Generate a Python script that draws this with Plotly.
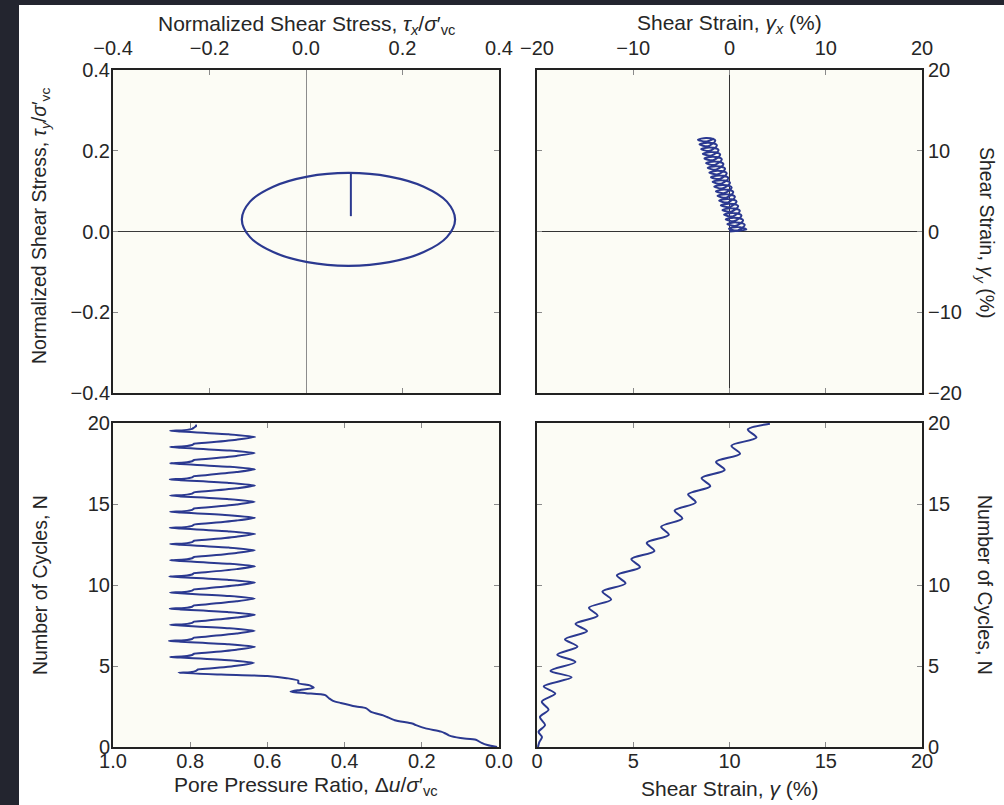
import plotly.graph_objects as go

W, H = 1004, 805

# ---------------- data ----------------
# Top-left: stress path (initial vertical loading, then the elliptical loop)
tau_x_initial = [0.093, 0.093]
tau_y_initial = [0.038, 0.146]
tau_x_loop = [0.088, 0.173, 0.244, 0.292, 0.309, 0.292, 0.244, 0.173, 0.088,
              0.003, -0.068, -0.116, -0.133, -0.116, -0.068, 0.003, 0.088]
tau_y_loop = [0.145, 0.136, 0.111, 0.074, 0.030, -0.014, -0.051, -0.076, -0.085,
              -0.076, -0.051, -0.014, 0.030, 0.074, 0.111, 0.136, 0.145]

# Top-right: strain path (coil), gamma_x / gamma_y in %
gamma_x = [0.00, 0.60,
           1.75, 0.85, -0.05, 0.85,
           1.58, 0.68, -0.22, 0.68,
           1.41, 0.51, -0.39, 0.51,
           1.24, 0.34, -0.56, 0.34,
           1.07, 0.17, -0.73, 0.17,
           0.90, 0.00, -0.90, 0.00,
           0.73, -0.17, -1.07, -0.17,
           0.56, -0.34, -1.24, -0.34,
           0.39, -0.51, -1.41, -0.51,
           0.22, -0.68, -1.58, -0.68,
           0.05, -0.85, -1.75, -0.85,
           -0.12, -1.02, -1.92, -1.02,
           -0.29, -1.19, -2.09, -1.19,
           -0.46, -1.36, -2.26, -1.36,
           -0.63, -1.53, -2.43, -1.53,
           -0.80, -1.70, -2.60, -1.70,
           -0.97, -1.87, -2.77, -1.87,
           -1.14, -2.04, -2.94, -2.04,
           -1.31, -2.21, -3.11, -2.21,
           -1.48, -2.38, -3.28, -2.38,
           -1.60]
gamma_y = [0.00, 0.05,
           0.25, 0.55, 0.35, 0.13,
           0.83, 1.13, 0.93, 0.71,
           1.41, 1.71, 1.51, 1.29,
           1.99, 2.29, 2.09, 1.87,
           2.57, 2.87, 2.67, 2.45,
           3.15, 3.45, 3.25, 3.03,
           3.73, 4.03, 3.83, 3.61,
           4.31, 4.61, 4.41, 4.19,
           4.89, 5.19, 4.99, 4.77,
           5.47, 5.77, 5.57, 5.35,
           6.05, 6.35, 6.15, 5.93,
           6.63, 6.93, 6.73, 6.51,
           7.21, 7.51, 7.31, 7.09,
           7.79, 8.09, 7.89, 7.67,
           8.37, 8.67, 8.47, 8.25,
           8.95, 9.25, 9.05, 8.83,
           9.53, 9.83, 9.63, 9.41,
           10.11, 10.41, 10.21, 9.99,
           10.69, 10.99, 10.79, 10.57,
           11.27, 11.57, 11.37, 11.15,
           11.50]

# Bottom-left: pore pressure ratio vs number of cycles
pp_cycles = [0.00, 0.12, 0.25, 0.45, 0.55, 0.72, 0.85, 0.95, 1.15, 1.35, 1.45, 1.65,
             1.85, 1.95, 2.15, 2.40, 2.50, 2.72, 2.85, 3.00, 3.20, 3.32, 3.42, 3.52,
             3.65, 3.80, 3.95, 4.10, 4.25, 4.38, 4.47,
             4.58, 4.62, 4.70, 4.78, 4.84, 5.03, 5.20, 5.36, 5.52,
             5.56, 5.60, 5.68, 5.76, 5.82, 6.01, 6.18, 6.34, 6.50,
             6.55, 6.59, 6.67, 6.75, 6.81, 7.00, 7.17, 7.33, 7.50,
             7.54, 7.58, 7.66, 7.74, 7.80, 7.99, 8.16, 8.32, 8.49,
             8.54, 8.58, 8.66, 8.74, 8.80, 8.99, 9.16, 9.32, 9.49,
             9.53, 9.57, 9.65, 9.73, 9.79, 9.98, 10.15, 10.31, 10.48,
             10.53, 10.57, 10.65, 10.73, 10.79, 10.98, 11.15, 11.31, 11.48,
             11.53, 11.57, 11.65, 11.73, 11.79, 11.98, 12.15, 12.31, 12.48,
             12.53, 12.57, 12.65, 12.73, 12.79, 12.98, 13.15, 13.31, 13.48,
             13.53, 13.57, 13.65, 13.73, 13.79, 13.98, 14.15, 14.31, 14.47,
             14.52, 14.56, 14.64, 14.72, 14.78, 14.97, 15.14, 15.30, 15.47,
             15.52, 15.56, 15.64, 15.72, 15.78, 15.97, 16.14, 16.30, 16.47,
             16.52, 16.56, 16.64, 16.72, 16.78, 16.97, 17.14, 17.30, 17.47,
             17.52, 17.56, 17.64, 17.72, 17.78, 17.97, 18.14, 18.30, 18.47,
             18.52, 18.56, 18.64, 18.72, 18.78, 18.97, 19.14, 19.30, 19.47,
             19.52, 19.56, 19.64, 19.72, 19.80, 19.90]
pp_ratio = [0.005, 0.030, 0.045, 0.060, 0.100, 0.130, 0.140, 0.150, 0.190, 0.215, 0.225, 0.270,
            0.290, 0.300, 0.330, 0.345, 0.370, 0.410, 0.430, 0.440, 0.450, 0.500, 0.540, 0.515,
            0.480, 0.490, 0.520, 0.520, 0.550, 0.600, 0.720,
            0.830, 0.800, 0.785, 0.780, 0.750, 0.675, 0.635, 0.700, 0.825,
            0.852, 0.815, 0.795, 0.790, 0.760, 0.680, 0.632, 0.700, 0.825,
            0.855, 0.815, 0.795, 0.790, 0.760, 0.680, 0.633, 0.700, 0.825,
            0.852, 0.815, 0.795, 0.790, 0.760, 0.680, 0.632, 0.700, 0.825,
            0.853, 0.815, 0.795, 0.790, 0.760, 0.680, 0.633, 0.700, 0.825,
            0.852, 0.815, 0.795, 0.790, 0.760, 0.680, 0.632, 0.700, 0.825,
            0.854, 0.815, 0.795, 0.790, 0.760, 0.680, 0.632, 0.700, 0.825,
            0.852, 0.815, 0.795, 0.790, 0.760, 0.680, 0.633, 0.700, 0.825,
            0.852, 0.815, 0.795, 0.790, 0.760, 0.680, 0.632, 0.700, 0.825,
            0.853, 0.815, 0.795, 0.790, 0.760, 0.680, 0.632, 0.700, 0.825,
            0.852, 0.815, 0.795, 0.790, 0.760, 0.680, 0.633, 0.700, 0.825,
            0.852, 0.815, 0.795, 0.790, 0.760, 0.680, 0.632, 0.700, 0.825,
            0.853, 0.815, 0.795, 0.790, 0.760, 0.680, 0.632, 0.700, 0.825,
            0.852, 0.815, 0.795, 0.790, 0.760, 0.680, 0.633, 0.700, 0.825,
            0.852, 0.815, 0.795, 0.790, 0.760, 0.680, 0.632, 0.700, 0.825,
            0.852, 0.815, 0.795, 0.790, 0.785, 0.785]

# Bottom-right: shear strain vs number of cycles
strain_cycles = [0.00, 0.30, 0.62, 0.93, 1.36, 1.85, 2.30, 2.80, 3.30, 3.75, 4.30, 4.70,
                 5.25, 5.70, 6.20, 6.65, 7.15, 7.60, 8.10, 8.60, 9.10, 9.60, 10.10, 10.60,
                 11.10, 11.60, 12.10, 12.60, 13.10, 13.60, 14.10, 14.60, 15.10, 15.60,
                 16.10, 16.60, 17.10, 17.60, 18.10, 18.60, 19.10, 19.60, 19.95]
strain_gamma = [0.05, 0.12, 0.26, 0.08, 0.42, 0.15, 0.60, 0.25, 0.95, 0.35, 1.80, 0.70,
                2.00, 1.05, 2.10, 1.45, 2.60, 2.00, 3.15, 2.70, 3.85, 3.40, 4.60, 4.15,
                5.35, 4.90, 6.10, 5.70, 6.85, 6.45, 7.55, 7.15, 8.25, 7.85,
                9.00, 8.55, 9.75, 9.30, 10.55, 10.10, 11.40, 10.95, 12.10]

# ---------------- styling ----------------
LINE = "#2b3990"
FONT = "Liberation Sans, Arial, Helvetica, sans-serif"
TXT = "#262626"

fig = go.Figure()
fig.add_trace(go.Scatter(x=tau_x_initial, y=tau_y_initial, mode="lines",
                         line=dict(color=LINE, width=2), xaxis="x", yaxis="y"))
fig.add_trace(go.Scatter(x=tau_x_loop, y=tau_y_loop, mode="lines",
                         line=dict(color=LINE, width=2.2, shape="spline", smoothing=1.0),
                         xaxis="x", yaxis="y"))
fig.add_trace(go.Scatter(x=gamma_x, y=gamma_y, mode="lines",
                         line=dict(color=LINE, width=2, shape="spline", smoothing=1.0),
                         xaxis="x2", yaxis="y2"))
fig.add_trace(go.Scatter(x=pp_ratio, y=pp_cycles, mode="lines",
                         line=dict(color=LINE, width=2, shape="spline", smoothing=0.6),
                         xaxis="x3", yaxis="y3"))
fig.add_trace(go.Scatter(x=strain_gamma, y=strain_cycles, mode="lines",
                         line=dict(color=LINE, width=2, shape="spline", smoothing=0.8),
                         xaxis="x4", yaxis="y4"))

LEFT = [113 / W, 499 / W]
RIGHT = [537 / W, 922 / W]
TOP = [1 - 393 / H, 1 - 70 / H]
BOT = [1 - 747 / H, 1 - 423 / H]


def ax(domain, anchor, side, rng, dtick, fmt=None, zero=False, zc="#7f7f7f", standoff=0):
    d = dict(domain=domain, anchor=anchor, side=side, range=rng, dtick=dtick,
             tick0=0, showgrid=False, showline=True, linecolor="#222222", linewidth=2,
             mirror="allticks", ticks="inside", ticklen=5, tickwidth=1, tickcolor="#8a8a8a",
             tickfont=dict(family=FONT, size=20, color=TXT), automargin=False,
             ticklabelstandoff=standoff,
             zeroline=zero, zerolinecolor=zc, zerolinewidth=1)
    if fmt:
        d["tickformat"] = fmt
    return d


fig.update_layout(
    width=W, height=H, margin=dict(l=0, r=0, t=0, b=0, pad=0, autoexpand=False),
    paper_bgcolor="white", plot_bgcolor="#fcfcf5", showlegend=False,
    font=dict(family=FONT, size=20, color=TXT),
    xaxis=ax(LEFT, "y", "top", [-0.4, 0.4], 0.2, ".1f", True, "#8c8c8c", 5),
    yaxis=ax(TOP, "x", "left", [-0.4, 0.4], 0.2, ".1f", True, "#3a3a3a", -3),
    xaxis2=ax(RIGHT, "y2", "top", [-20, 20], 10, None, True, "#333333", 5),
    yaxis2=ax(TOP, "x2", "right", [-20, 20], 10, None, True, "#333333", 0),
    xaxis3=ax(LEFT, "y3", "bottom", [1.0, 0.0], 0.2, ".1f", standoff=-5),
    yaxis3=ax(BOT, "x3", "left", [0, 20], 5, standoff=-3),
    xaxis4=ax(RIGHT, "y4", "bottom", [0, 20], 5, standoff=-5),
    yaxis4=ax(BOT, "x4", "right", [0, 20], 5, standoff=0),
)

titles = [
    ("Normalized Shear Stress, <i>τ<sub>x</sub></i>/<i>σ</i>′<sub>vc</sub>", 306, 25, 0, 21),
    ("Shear Strain, <i>γ<sub>x</sub></i> (%)", 729, 24, 0, 21),
    ("Normalized Shear Stress, <i>τ<sub>y</sub></i>/<i>σ</i>′<sub>vc</sub>", 40, 226, -90, 19.5),
    ("Shear Strain, <i>γ<sub>y</sub></i> (%)", 985, 233, 90, 19.5),
    ("Number of Cycles, N", 40, 585, -90, 19.5),
    ("Number of Cycles, N", 985, 585, 90, 19.5),
    ("Pore Pressure Ratio, Δ<i>u</i>/<i>σ</i>′<sub>vc</sub>", 306, 786, 0, 21),
    ("Shear Strain, <i>γ</i> (%)", 729, 788, 0, 21),
]
for text, px, py, ang, fs in titles:
    fig.add_annotation(text=text, x=px / W, y=1 - py / H, xref="paper", yref="paper",
                       showarrow=False, textangle=ang, xanchor="center", yanchor="middle",
                       font=dict(family=FONT, size=fs, color=TXT))

# dark frame strips along the left and top edges of the picture
fig.add_shape(type="rect", xref="paper", yref="paper", x0=0, x1=19 / W, y0=0, y1=1,
              fillcolor="#23252f", line=dict(width=0), layer="above")
fig.add_shape(type="rect", xref="paper", yref="paper", x0=0, x1=1, y0=1 - 5 / H, y1=1,
              fillcolor="#23252f", line=dict(width=0), layer="above")

fig.write_html("out.html")
